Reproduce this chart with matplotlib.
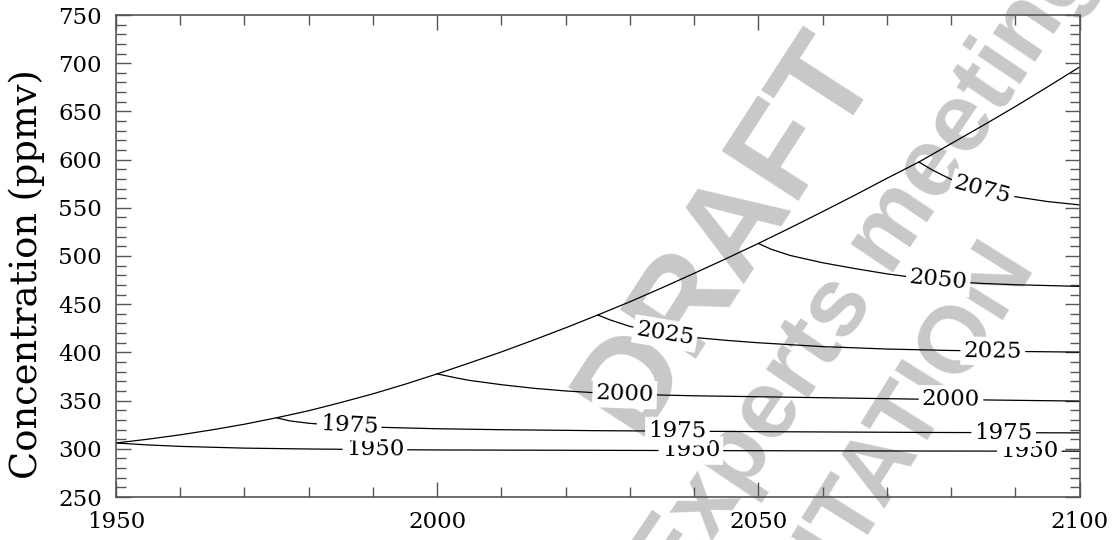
import numpy as np
import matplotlib
matplotlib.use("Agg")
import matplotlib.pyplot as plt
from matplotlib.ticker import MultipleLocator

# main concentration path
main_years = [1950, 1955, 1960, 1965, 1970, 1975, 1980, 1985, 1990, 1995, 2000,
              2005, 2010, 2015, 2020, 2025, 2030, 2035, 2040, 2045, 2050, 2055,
              2060, 2065, 2070, 2075, 2080, 2085, 2090, 2095, 2100]
main_conc = [306, 310, 314.5, 319.7, 325.5, 332.2, 339.5, 348, 357, 367, 377.7,
             389, 400.5, 412.8, 425.5, 438.8, 452.5, 467, 482, 497.3, 513, 529.3,
             546, 563, 580.5, 597.5, 616.5, 635.5, 655, 675.3, 696]

# branches: emissions stopped at the given year
b1950_years = [1950, 1955, 1960, 1970, 1980, 1990, 2000, 2025, 2050, 2075, 2100]
b1950_conc = [306, 304, 302.5, 300.7, 299.8, 299.2, 298.8, 298.4, 298, 297.7, 297.5]

b1975_years = [1975, 1977, 1980, 1985, 1990, 2000, 2010, 2025, 2050, 2075, 2100]
b1975_conc = [332.2, 329, 326.5, 324, 322.5, 320.8, 319.8, 318.8, 317.8, 317, 316.5]

b2000_years = [2000, 2003, 2005, 2010, 2015, 2020, 2025, 2030, 2040, 2050, 2060, 2075, 2090, 2100]
b2000_conc = [377.7, 373.5, 371, 366.5, 362.8, 360, 358, 356.5, 355, 354, 353, 351.5, 350.3, 349.5]

b2025_years = [2025, 2027, 2030, 2035, 2040, 2045, 2050, 2060, 2070, 2080, 2090, 2100]
b2025_conc = [438.8, 433.5, 427, 420, 415.5, 412.5, 410, 406, 403.5, 402, 401, 400.3]

b2050_years = [2050, 2052, 2055, 2060, 2065, 2070, 2075, 2080, 2085, 2090, 2100]
b2050_conc = [513, 507, 500.5, 493, 487, 481.5, 477, 473.5, 471.5, 470.2, 468.5]

b2075_years = [2075, 2077, 2080, 2085, 2090, 2095, 2100]
b2075_conc = [597.5, 589.5, 579.5, 568, 561.5, 556.5, 553]

branch_names = ["1950", "1975", "2000", "2025", "2050", "2075"]
branch_years = [b1950_years, b1975_years, b2000_years, b2025_years, b2050_years, b2075_years]
branch_conc = [b1950_conc, b1975_conc, b2000_conc, b2025_conc, b2050_conc, b2075_conc]
# where the inline labels sit (year)
label_years = [[1990.3, 2039.5, 2092.2],
               [1986.3, 2037.4, 2088.2],
               [2029.2, 2080.0],
               [2035.5, 2086.5],
               [2078.0],
               [2084.9]]

serif = "DejaVu Serif"
grey = "#c8c8c8"

fig = plt.figure(figsize=(11.16, 5.40), dpi=100)
ax = fig.add_axes([116 / 1116, 1 - 497 / 540, 963.5 / 1116, 482 / 540])
ax.set_facecolor("none")

# watermark behind everything
wm = dict(fontweight="bold", family="Liberation Sans", color=grey,
          rotation_mode="anchor", va="center", zorder=-5)
fig.text(727 / 1116, 1 - 232 / 540, "DRAFT", fontsize=94, ha="center", rotation=57, **wm)
fig.text(866 / 1116, 1 - 268 / 540, "Experts meeting", fontsize=70, ha="center", rotation=56, **wm)
fig.text(1016 / 1116, 1 - 254 / 540, "NOT FOR CITATION", fontsize=68, ha="right", rotation=58, **wm)

ax.plot(main_years, main_conc, color="black", lw=0.9, zorder=2)
for yrs, conc in zip(branch_years, branch_conc):
    ax.plot(yrs, conc, color="black", lw=0.9, zorder=2)

ax.set_xlim(1950, 2100)
ax.set_ylim(250, 750)

# inline labels that follow the slope of each branch
for name, yrs, conc, lx in zip(branch_names, branch_years, branch_conc, label_years):
    for x in lx:
        y = np.interp(x, yrs, conc)
        p0 = ax.transData.transform((x - 3, np.interp(x - 3, yrs, conc)))
        p1 = ax.transData.transform((x + 3, np.interp(x + 3, yrs, conc)))
        ang = np.degrees(np.arctan2(p1[1] - p0[1], p1[0] - p0[0]))
        ax.text(x, y, name, fontsize=16.5, family=serif, ha="center", va="center",
                rotation=ang, rotation_mode="anchor", zorder=3,
                bbox=dict(boxstyle="square,pad=0.14", fc="white", ec="none"))

ax.xaxis.set_major_locator(MultipleLocator(50))
ax.xaxis.set_minor_locator(MultipleLocator(10))
ax.yaxis.set_major_locator(MultipleLocator(50))
ax.yaxis.set_minor_locator(MultipleLocator(10))
frame = "#555555"
ax.tick_params(which="both", direction="in", top=True, right=True, color=frame, width=1.0)
ax.tick_params(which="major", length=11, pad=10, labelsize=16.5)
ax.tick_params(which="minor", length=7)
for lab in ax.get_xticklabels() + ax.get_yticklabels():
    lab.set_family(serif)
for sp in ax.spines.values():
    sp.set_color(frame)
    sp.set_linewidth(1.2)

ax.set_ylabel("Concentration (ppmv)", fontsize=26.5, family=serif, va="center")
ax.yaxis.set_label_coords(-0.0924, 0.462)

fig.savefig("out.png", dpi=100)
